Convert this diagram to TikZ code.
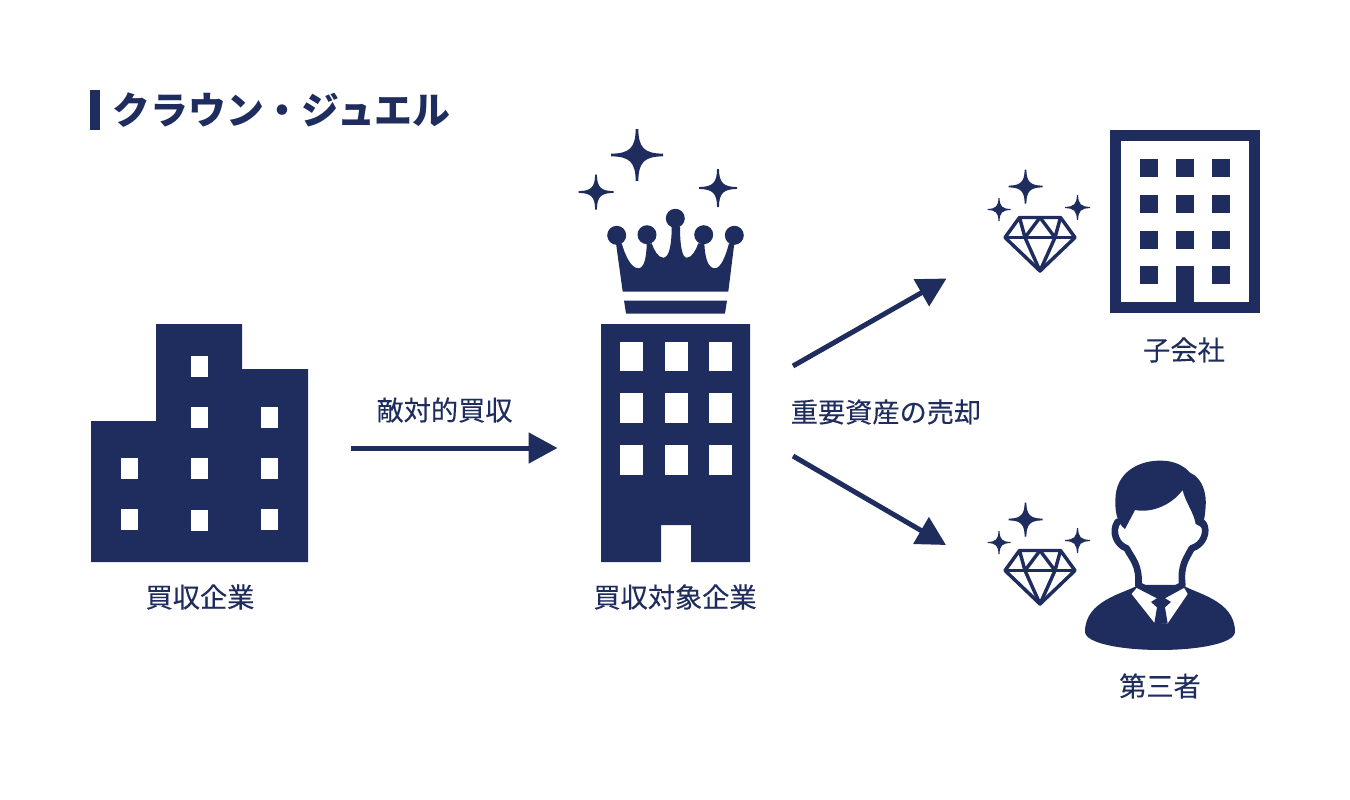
\documentclass[tikz,border=0pt]{standalone}
\usepackage{fontspec}
\setmainfont{Noto Sans CJK JP}
\newfontfamily\labelfont{Noto Sans CJK JP}[FakeBold=0.2]
\usetikzlibrary{arrows.meta}
\definecolor{navy}{RGB}{31,45,94}
\tikzset{every picture/.style={line width=0.75pt}}
\tikzset{
  navyshape/.style={fill=navy,draw=none},
  whiteshape/.style={fill=white,draw=none},
  gemline/.style={draw=navy,line width=2.6pt,line join=round},
  faceline/.style={draw=navy,line width=5pt,line cap=round,line join=round},
  bigarrow/.style={draw=navy,line width=3.75pt,-{Triangle[length=21.7pt,width=22.5pt]}},
  caption/.style={text=navy,font=\labelfont\fontsize{20.4}{24}\selectfont,inner sep=0pt},
  headline/.style={text=navy,font=\fontsize{28.4}{34}\selectfont\bfseries,inner sep=0pt,anchor=west}
}
% sparkle: x, y, radius
\newcommand{\sparkle}[3]{
\fill [navy, shift={(#1,#2)}, scale=#3] (-0.05,-1) -- (0.05,-1) .. controls (0.06,-0.28) and (0.28,-0.06) .. (1,-0.05) -- (1,0.05) .. controls (0.28,0.06) and (0.06,0.28) .. (0.05,1) -- (-0.05,1) .. controls (-0.06,0.28) and (-0.28,0.06) .. (-1,0.05) -- (-1,-0.05) .. controls (-0.28,-0.06) and (-0.06,-0.28) .. (-0.05,-1) -- cycle ;
}
% gem with its three sparkles: vertical shift
\newcommand{\gem}[1]{
\sparkle{1025.5}{186.5+#1}{17}
\sparkle{999}{209.5+#1}{11.5}
\sparkle{1077.5}{207.5+#1}{12.5}
\draw [gemline, shift={(0,#1)}] (1019.5,217.5) -- (1060.5,217.5) -- (1075,237.5) -- (1040,271) -- (1005,237.5) -- cycle ;
\draw [gemline, shift={(0,#1)}] (1005,237.5) -- (1075,237.5) ;
\draw [gemline, shift={(0,#1)}] (1019.5,217.5) -- (1025,237.5) -- (1040,217.5) -- (1055,237.5) -- (1060.5,217.5) ;
\draw [gemline, shift={(0,#1)}] (1025,237.5) -- (1040,271) -- (1055,237.5) ;
}

\begin{document}
\begin{tikzpicture}[x=0.75pt,y=0.75pt,yscale=-1,xscale=1]
\useasboundingbox (0,0) rectangle (1350,800);

%Shape: Title bar
\fill [navyshape] (90,90) -- (100,90) -- (100,130) -- (90,130) -- cycle ;

%Shape: Buyer building
\fill [navyshape] (91,421) -- (156,421) -- (156,324) -- (242,324) -- (242,369) -- (308,369) -- (308,562) -- (91,562) -- cycle ;
\fill [whiteshape] (191,356) rectangle (208,377) ;
\fill [whiteshape] (191,407) rectangle (208,428) ;
\fill [whiteshape] (261,407) rectangle (278,428) ;
\fill [whiteshape] (121,458) rectangle (138,479) ;
\fill [whiteshape] (191,458) rectangle (208,479) ;
\fill [whiteshape] (261,458) rectangle (278,479) ;
\fill [whiteshape] (121,509) rectangle (138,530) ;
\fill [whiteshape] (191,510) rectangle (208,531) ;
\fill [whiteshape] (261,509) rectangle (278,530) ;

%Shape: Target building
\fill [navyshape] (601,324) -- (750,324) -- (750,562) -- (691,562) -- (691,525) -- (661,525) -- (661,562) -- (601,562) -- cycle ;
\fill [whiteshape] (620,342) rectangle (643,371) ;
\fill [whiteshape] (665,342) rectangle (688,371) ;
\fill [whiteshape] (709,342) rectangle (732,371) ;
\fill [whiteshape] (620,393) rectangle (643,423) ;
\fill [whiteshape] (665,393) rectangle (688,423) ;
\fill [whiteshape] (709,393) rectangle (732,423) ;
\fill [whiteshape] (620,445) rectangle (643,475) ;
\fill [whiteshape] (665,445) rectangle (688,475) ;
\fill [whiteshape] (709,445) rectangle (732,475) ;

%Shape: Crown
\fill [navyshape] (616,243.3) -- (622.7,291.7) -- (728.3,291.7) -- (734.3,243.3) -- (729,243.3) .. controls (726,255) and (721,268.3) .. (715,268.3) .. controls (708,268.3) and (705,258) .. (704.3,243.3) -- (698.3,243.3) .. controls (696,250) and (692,257.7) .. (686.7,257.7) .. controls (682,257.7) and (680,245) .. (680,226.7) -- (671.7,226.7) .. controls (671.7,245) and (669,257.7) .. (663.3,257.7) .. controls (658,257.7) and (654,250) .. (651.7,243.3) -- (646.7,243.3) .. controls (646.5,258) and (644,268.3) .. (638.3,268.3) .. controls (631,268.3) and (625,255) .. (621.7,243.3) -- cycle ;
\fill [navyshape] (624,300.5) -- (727,300.5) -- (725,313.5) -- (626,313.5) -- cycle ;
\fill [navy] (616.7,235.3) circle [radius=9.5] ;
\fill [navy] (647,234.7) circle [radius=9.5] ;
\fill [navy] (675.3,218.3) circle [radius=9.5] ;
\fill [navy] (703.7,234.7) circle [radius=9.5] ;
\fill [navy] (734.3,235.3) circle [radius=9.5] ;

%Shape: Sparkles over crown
\sparkle{637}{155}{26}
\sparkle{596}{192}{17.5}
\sparkle{718}{188}{19}

%Shape: Subsidiary building
\fill [navyshape] (1110,130) -- (1260,130) -- (1260,313) -- (1110,313) -- cycle ;
\fill [whiteshape] (1121,141) -- (1249,141) -- (1249,302) -- (1121,302) -- cycle ;
\fill [navyshape] (1176,266) rectangle (1194,313) ;
\fill [navyshape] (1140,159) rectangle (1158,177) ;
\fill [navyshape] (1176,159) rectangle (1194,177) ;
\fill [navyshape] (1212,159) rectangle (1230,177) ;
\fill [navyshape] (1140,195) rectangle (1158,213) ;
\fill [navyshape] (1176,195) rectangle (1194,213) ;
\fill [navyshape] (1212,195) rectangle (1230,213) ;
\fill [navyshape] (1140,231) rectangle (1158,249) ;
\fill [navyshape] (1176,231) rectangle (1194,249) ;
\fill [navyshape] (1212,231) rectangle (1230,249) ;
\fill [navyshape] (1140,266) rectangle (1158,284) ;
\fill [navyshape] (1212,266) rectangle (1230,284) ;

%Shape: Gems
\gem{0}
\gem{333}

%Shape: Person
\begin{scope}[shift={(1075,450)},scale=0.3333]
\fill [navyshape] (190,405) .. controls (150,430) and (30,450) .. (30,545) .. controls (30,580) and (140,600) .. (255,600) .. controls (370,600) and (480,580) .. (480,545) .. controls (480,450) and (360,430) .. (322,405) -- cycle ;
\fill [whiteshape] (170,432) -- (190,408) -- (258,440) -- (325,410) -- (338,432) -- (278,520) -- (238,518) -- cycle ;
\fill [navyshape] (228,456) -- (258,437) -- (288,456) -- (270,472) -- (278,520) -- (238,520) -- (246,472) -- cycle ;
\draw [faceline] (128,215) .. controls (108,245) and (125,285) .. (155,295) .. controls (170,325) and (195,345) .. (190,405) -- (258,440) -- (322,405) .. controls (315,345) and (335,325) .. (350,295) .. controls (385,285) and (400,245) .. (385,220) ;
\fill [navyshape] (150,237) .. controls (125,220) and (118,180) .. (122,135) .. controls (130,60) and (200,30) .. (260,32) .. controls (300,32) and (330,50) .. (345,68) .. controls (385,85) and (395,135) .. (392,170) .. controls (390,200) and (385,220) .. (382,235) .. controls (372,225) and (365,225) .. (362,222) .. controls (358,190) and (330,155) .. (323,120) .. controls (290,165) and (230,190) .. (180,180) -- cycle ;
\end{scope}

%Straight Lines
\coordinate (buyerout) at (351,448) ;
\coordinate (targetin) at (557.5,448) ;
\coordinate (targetup) at (793,366) ;
\coordinate (subsidiaryin) at (946.5,278.5) ;
\coordinate (targetdown) at (793,456) ;
\coordinate (thirdin) at (946,545) ;
\draw [bigarrow] (buyerout) -- (targetin) ;
\draw [bigarrow] (targetup) -- (subsidiaryin) ;
\draw [bigarrow] (targetdown) -- (thirdin) ;

% Text Node
\draw (112,110) node (title) [headline] {クラウン・ジュエル};
% Text Node
\draw (200,597) node (buyer) [caption] {買収企業};
% Text Node
\draw (444.5,410) node (hostile) [caption] {敵対的買収};
% Text Node
\draw (675,597) node (target) [caption] {買収対象企業};
% Text Node
\draw (886,412) node (sale) [caption] {重要資産の売却};
% Text Node
\draw (1184,350) node (subsidiary) [caption] {子会社};
% Text Node
\draw (1160,686) node (third) [caption] {第三者};

\end{tikzpicture}
\end{document}
